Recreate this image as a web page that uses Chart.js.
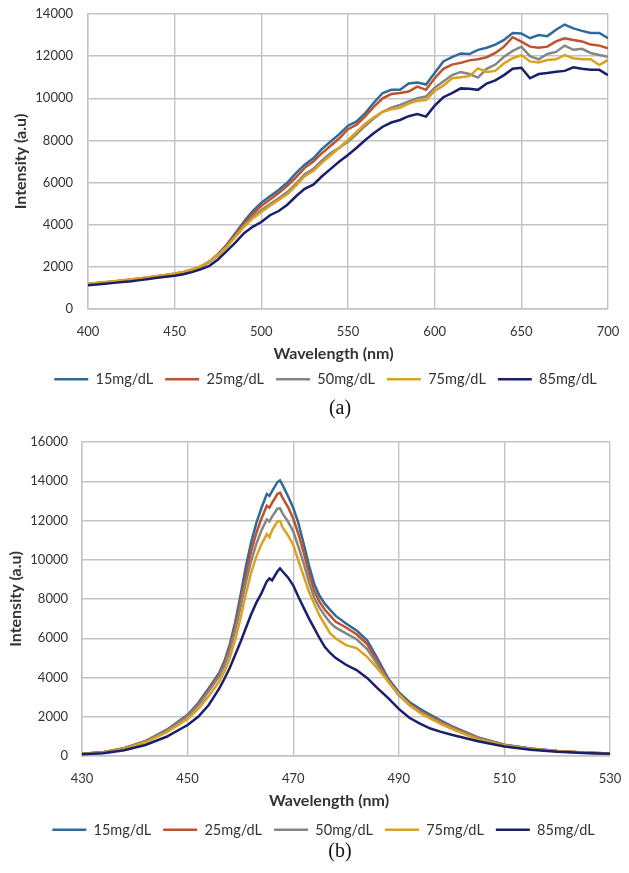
<!DOCTYPE html>
<html><head><meta charset="utf-8">
<script src="https://cdn.jsdelivr.net/npm/chart.js@4.4.1/dist/chart.umd.min.js"></script>
<style>
html,body{margin:0;padding:0;background:#fff;width:629px;height:873px;overflow:hidden;}
canvas{position:absolute;left:0;}
#ca{top:0;}
#cb{top:428px;}
</style></head><body>
<canvas id="ca" width="629" height="430"></canvas>
<canvas id="cb" width="629" height="450"></canvas>
<script>
// ---------- data ----------
const seriesNames = ['15mg/dL','25mg/dL','50mg/dL','75mg/dL','85mg/dL'];
const seriesColors = ['#2f6b9a','#c0522b','#858585','#dca11e','#1a1f6b'];

// Panel (a)
const wavelengthsA = [400,405,410,415,420,425,430,435,440,445,450,455,460,465,470,475,480,485,490,495,500,505,510,515,520,525,530,535,540,545,550,555,560,565,570,575,580,585,590,595,600,605,610,615,620,625,630,635,640,645,650,655,660,665,670,675,680,685,690,695,700];
const a15 = [1180,1220,1260,1300,1340,1390,1440,1490,1550,1600,1660,1740,1850,2000,2250,2600,3050,3600,4150,4650,5050,5350,5650,6000,6450,6850,7150,7600,7950,8300,8700,8900,9300,9800,10250,10400,10400,10700,10750,10650,11200,11750,11950,12130,12100,12300,12400,12550,12770,13100,13080,12850,13000,12950,13250,13500,13320,13200,13100,13100,12850];
const a25 = [1190,1230,1270,1310,1350,1400,1450,1500,1560,1610,1670,1750,1860,2010,2240,2570,3000,3520,4050,4520,4900,5200,5500,5850,6250,6700,7000,7400,7750,8100,8530,8750,9150,9600,10000,10200,10250,10320,10550,10400,10950,11400,11600,11680,11800,11850,11950,12150,12450,12900,12690,12450,12400,12450,12700,12850,12770,12700,12550,12500,12370];
const a50 = [1180,1220,1260,1300,1345,1390,1440,1490,1550,1600,1660,1740,1850,2000,2230,2540,2950,3450,3950,4380,4700,4980,5250,5550,5950,6400,6650,7050,7400,7650,7940,8300,8700,9050,9360,9550,9680,9850,10000,10080,10500,10800,11100,11250,11150,10980,11400,11600,11970,12250,12450,12000,11850,12100,12200,12500,12300,12350,12150,12050,11970];
const a75 = [1200,1240,1280,1320,1365,1410,1460,1510,1570,1625,1690,1770,1880,2030,2260,2560,2950,3420,3900,4300,4600,4900,5170,5450,5850,6300,6550,6950,7300,7650,8020,8400,8800,9100,9360,9480,9550,9750,9880,9920,10350,10600,10950,11000,11050,11420,11250,11300,11660,11900,12050,11750,11700,11820,11850,12050,11900,11850,11850,11580,11820];
const a85 = [1130,1160,1200,1240,1280,1320,1370,1420,1480,1530,1580,1650,1750,1880,2050,2350,2750,3150,3600,3900,4130,4450,4650,4950,5350,5700,5900,6300,6650,7000,7310,7650,8020,8350,8650,8850,8970,9150,9250,9130,9650,10050,10250,10470,10450,10400,10700,10850,11100,11400,11450,10950,11150,11200,11260,11300,11470,11400,11350,11350,11100];
const xTicksA = [400,450,500,550,600,650,700];
const yTicksA = [0,2000,4000,6000,8000,10000,12000,14000];

// Panel (b)
const wavelengthsB = [430,434,438,442,446,450,452,454,456,457,458,459,460,461,462,463,464,465,465.5,466,467,467.5,468,469,470,471,472,473,474,475,476,477,478,480,482,484,486,488,490,492,494,496,498,500,505,510,515,520,525,530];
const b15 = [110,190,400,760,1330,2100,2700,3450,4250,4850,5700,6800,8150,9600,10850,11850,12650,13350,13250,13500,13950,14050,13800,13250,12650,11850,10800,9700,8750,8150,7750,7450,7150,6750,6400,5900,4950,3950,3250,2750,2400,2100,1800,1520,950,580,380,260,180,130];
const b25 = [110,190,395,750,1300,2060,2640,3380,4170,4750,5550,6600,7850,9200,10400,11350,12100,12750,12650,12900,13350,13420,13150,12700,12100,11300,10350,9300,8400,7850,7450,7150,6850,6550,6200,5700,4800,3850,3150,2650,2300,2000,1750,1480,930,565,370,250,175,125];
const b50 = [110,185,390,740,1280,2020,2580,3300,4070,4620,5380,6380,7550,8800,9900,10800,11500,12050,11950,12200,12600,12620,12350,11950,11450,10650,9800,8850,8050,7550,7150,6800,6550,6250,5950,5450,4650,3800,3100,2600,2250,1950,1700,1450,910,560,365,250,170,125];
const b75 = [100,170,360,700,1200,1880,2400,3050,3800,4320,5000,5900,7000,8200,9300,10150,10800,11300,11150,11500,11950,11980,11650,11250,10750,9950,9150,8350,7750,7150,6700,6250,6000,5650,5500,5050,4450,3800,3150,2600,2200,1900,1620,1380,840,530,350,240,165,120];
const b85 = [90,140,290,560,980,1580,2000,2600,3450,3950,4500,5150,5800,6500,7200,7800,8300,8900,9050,8950,9400,9560,9400,9100,8700,8100,7550,7000,6500,6000,5550,5250,5000,4650,4380,3980,3450,2950,2400,1950,1650,1400,1230,1080,750,480,320,220,150,110];
const xTicksB = [430,450,470,490,510,530];
const yTicksB = [0,2000,4000,6000,8000,10000,12000,14000,16000];

const xTitle = 'Wavelength (nm)';
const yTitle = 'Intensity (a.u)';

// ---------- helpers ----------
const FONT = 'Lato';
const GRID = '#c3c3c3';
const TEXT = '#333333';

const nudge = {
  id: 'nudge',
  afterLayout(chart, args, o) {
    const shift = (box, d) => {
      if (!box || !d) return;
      box.left += d.dx || 0; box.right += d.dx || 0;
      box.top += d.dy || 0; box.bottom += d.dy || 0;
    };
    shift(chart.legend, o.legend);
    shift(chart.titleBlock, o.title);
    const sub = chart.boxes.find(b => b !== chart.titleBlock && b !== chart.legend && !b.axis && b.options && b.options.text === xTitle);
    shift(sub, o.subtitle);
  }
};

function build(canvasId, wl, series, xTicks, yTicks, L) {
  const datasets = series.map((vals, i) => ({
    label: seriesNames[i],
    data: wl.map((x, j) => ({x: x, y: vals[j]})),
    borderColor: seriesColors[i],
    backgroundColor: seriesColors[i],
    borderWidth: 2.5,
    pointRadius: 0,
    tension: 0,
    order: series.length - i
  }));
  return new Chart(document.getElementById(canvasId), {
    type: 'line',
    data: { datasets },
    plugins: [nudge],
    options: {
      responsive: false,
      animation: false,
      devicePixelRatio: 1,
      layout: { padding: { top: L.padTop, bottom: L.padBottom, left: 0, right: L.padRight } },
      scales: {
        x: {
          type: 'linear',
          min: xTicks[0], max: xTicks[xTicks.length - 1],
          afterBuildTicks: s => { s.ticks = xTicks.map(v => ({ value: v })); },
          afterFit: s => { s.height = 32; },
          ticks: { font: { family: FONT, size: 13 }, color: TEXT, padding: 0, maxRotation: 0, autoSkip: false, callback: v => String(v) },
          grid: { color: GRID, lineWidth: 1.4, drawTicks: true, tickLength: 15, tickColor: 'rgba(0,0,0,0)' },
          border: { color: GRID, width: 1.4 }
        },
        y: {
          min: yTicks[0], max: yTicks[yTicks.length - 1],
          afterBuildTicks: s => { s.ticks = yTicks.map(v => ({ value: v })); },
          afterFit: s => { s.width = L.yWidth; },
          ticks: { font: { family: FONT, size: 13 }, color: TEXT, padding: 0, autoSkip: false, callback: v => String(v) },
          grid: { color: GRID, lineWidth: 1.4, drawTicks: true, tickLength: L.yTickPad, tickColor: 'rgba(0,0,0,0)' },
          border: { color: GRID, width: 1.4 },
          title: { display: true, text: yTitle, color: TEXT, font: { family: FONT, size: 16, weight: 'bold' }, padding: { top: L.yTitlePad, bottom: 0 } }
        }
      },
      plugins: {
        legend: {
          position: 'bottom',
          labels: {
            usePointStyle: true, pointStyle: 'line', pointStyleWidth: 34,
            font: { family: FONT, size: 14.5 }, color: TEXT, padding: 12,
            sort: (a, b) => a.datasetIndex - b.datasetIndex
          }
        },
        subtitle: {
          display: true, position: 'bottom', weight: 500, text: xTitle, color: TEXT,
          font: { family: FONT, size: 16, weight: 'bold' }, padding: { top: 3.4, bottom: 0 }
        },
        title: {
          display: true, position: 'bottom', text: L.label, color: '#111',
          font: { family: 'Liberation Serif', size: 20, weight: 'normal', lineHeight: 1 }, padding: 0
        },
        tooltip: { enabled: false },
        nudge: L.nudge
      }
    }
  });
}

build('ca', wavelengthsA, [a15, a25, a50, a75, a85], xTicksA, yTicksA, {
  padTop: 14, padBottom: 9.9, padRight: 21, yWidth: 88, yTickPad: 15, yTitlePad: 11, label: '(a)',
  nudge: { legend: { dx: 21.5, dy: -3.5 }, subtitle: { dx: 29.5, dy: 0 }, title: { dx: 36, dy: -1.8 } }
});
build('cb', wavelengthsB, [b15, b25, b50, b75, b85], xTicksB, yTicksB, {
  padTop: 14, padBottom: 10.9, padRight: 19, yWidth: 82, yTickPad: 14, yTitlePad: 6, label: '(b)',
  nudge: { legend: { dx: 18.5, dy: 0 }, subtitle: { dx: 24, dy: 0 }, title: { dx: 35, dy: -5.4 } }
});
</script>
</body></html>
